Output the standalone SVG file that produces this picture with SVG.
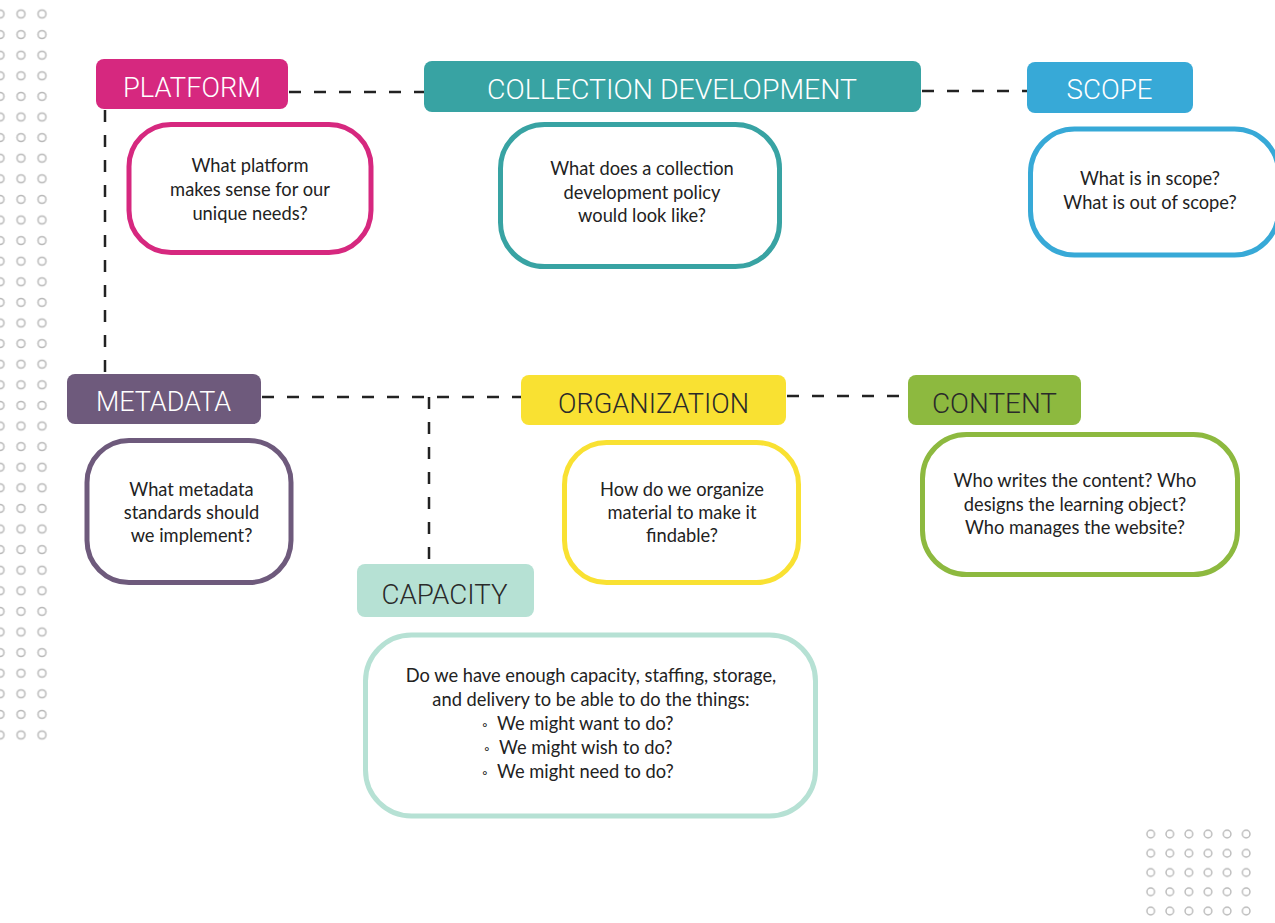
<svg xmlns="http://www.w3.org/2000/svg" width="1275" height="923" viewBox="0 0 1275 923">
<style>
.hdr{font-family:Roboto,"Liberation Sans",sans-serif;font-size:28px;text-anchor:middle;font-weight:300}
.w{fill:#ffffff}
.d{fill:#2a2a2a}
.body{font-family:Lato,"Open Sans","Liberation Sans",sans-serif;font-size:18.3px;fill:#222;text-anchor:middle}
.box{fill:#ffffff;stroke-width:5}
.conn{stroke:#222;stroke-width:2.5;stroke-dasharray:12 13;fill:none}
</style>
<defs>
<pattern id="dotsL" patternUnits="userSpaceOnUse" x="-10.5" y="3.7" width="21" height="20.6">
<circle cx="10.5" cy="10.3" r="4" fill="none" stroke="#b8b8b8" stroke-width="1.5"/>
</pattern>
<pattern id="dotsR" patternUnits="userSpaceOnUse" x="1141.15" y="824.4" width="19.1" height="19.25">
<circle cx="9.55" cy="9.6" r="3.8" fill="none" stroke="#b8b8b8" stroke-width="1.4"/>
</pattern>
</defs>
<rect width="1275" height="923" fill="#ffffff"/>
<g id="dots">
<rect x="-10.5" y="3.7" width="63" height="741.6" fill="url(#dotsL)"/>
<rect x="1141.15" y="824.4" width="114.6" height="96.25" fill="url(#dotsR)"/>
</g>
<g id="connectors">
<line class="conn" x1="289" y1="92" x2="424" y2="92"/>
<line class="conn" x1="922" y1="91" x2="1027" y2="91"/>
<line class="conn" x1="105" y1="110" x2="105" y2="374"/>
<line class="conn" x1="262" y1="397" x2="521" y2="397"/>
<line class="conn" x1="429" y1="397" x2="429" y2="564"/>
<line class="conn" x1="787" y1="396" x2="908" y2="396"/>
</g>
<g id="platform">
<rect x="96" y="59" width="192" height="50" rx="8" fill="#D6287F"/>
<text class="hdr w" x="192" y="97" textLength="138" lengthAdjust="spacingAndGlyphs">PLATFORM</text>
<rect class="box" x="129" y="124.5" width="242" height="128" rx="42" stroke="#D6287F"/>
<text class="body" x="250" y="172">What platform</text>
<text class="body" x="250" y="196">makes sense for our</text>
<text class="body" x="250" y="220">unique needs?</text>
</g>
<g id="collection-development">
<rect x="424" y="61" width="497" height="51" rx="8" fill="#38A3A3"/>
<text class="hdr w" x="672" y="98.5" textLength="370" lengthAdjust="spacingAndGlyphs">COLLECTION DEVELOPMENT</text>
<rect class="box" x="500.5" y="124.5" width="279" height="142" rx="44" stroke="#38A3A3"/>
<text class="body" x="642" y="175">What does a collection</text>
<text class="body" x="642" y="199">development policy</text>
<text class="body" x="642" y="222">would look like?</text>
</g>
<g id="scope">
<rect x="1027" y="62" width="166" height="51" rx="8" fill="#37A9D7"/>
<text class="hdr w" x="1109.5" y="99" textLength="86" lengthAdjust="spacingAndGlyphs">SCOPE</text>
<rect class="box" x="1030.5" y="129" width="248" height="126" rx="44" stroke="#37A9D7"/>
<text class="body" x="1150" y="185">What is in scope?</text>
<text class="body" x="1150" y="209">What is out of scope?</text>
</g>
<g id="metadata">
<rect x="67" y="374" width="194" height="50" rx="8" fill="#6E5A7C"/>
<text class="hdr w" x="163.5" y="410.5" textLength="135" lengthAdjust="spacingAndGlyphs">METADATA</text>
<rect class="box" x="87" y="440.5" width="204" height="142" rx="42" stroke="#6E5A7C"/>
<text class="body" x="191.5" y="495.5">What metadata</text>
<text class="body" x="191.5" y="518.5">standards should</text>
<text class="body" x="191.5" y="542">we implement?</text>
</g>
<g id="organization">
<rect x="521" y="375" width="265" height="50" rx="8" fill="#F9E132"/>
<text class="hdr d" x="653.5" y="413" textLength="191" lengthAdjust="spacingAndGlyphs">ORGANIZATION</text>
<rect class="box" x="564.5" y="442.5" width="234" height="140" rx="42" stroke="#F9E132"/>
<text class="body" x="682" y="495.5">How do we organize</text>
<text class="body" x="682" y="518.5">material to make it</text>
<text class="body" x="682" y="542">findable?</text>
</g>
<g id="content">
<rect x="908" y="375" width="173" height="50" rx="8" fill="#8DB93F"/>
<text class="hdr d" x="994.5" y="413" textLength="125" lengthAdjust="spacingAndGlyphs">CONTENT</text>
<rect class="box" x="922.5" y="434.5" width="315" height="140" rx="44" stroke="#8DB93F"/>
<text class="body" x="1075" y="487">Who writes the content? Who</text>
<text class="body" x="1075" y="511">designs the learning object?</text>
<text class="body" x="1075" y="534">Who manages the website?</text>
</g>
<g id="capacity">
<rect x="357" y="564" width="177" height="53" rx="8" fill="#B6E1D4"/>
<text class="hdr d" x="444.5" y="603.5" textLength="126" lengthAdjust="spacingAndGlyphs">CAPACITY</text>
<rect class="box" x="365.5" y="635" width="450" height="181" rx="46" stroke="#B6E1D4"/>
<text class="body" x="591" y="682">Do we have enough capacity, staffing, storage,</text>
<text class="body" x="591" y="705.5">and delivery to be able to do the things:</text>
<text class="body" x="482" y="730" style="text-anchor:start"><tspan font-size="14">◦</tspan><tspan x="497">We might want to do?</tspan></text>
<text class="body" x="484" y="754" style="text-anchor:start"><tspan font-size="14">◦</tspan><tspan x="499">We might wish to do?</tspan></text>
<text class="body" x="482" y="778" style="text-anchor:start"><tspan font-size="14">◦</tspan><tspan x="497">We might need to do?</tspan></text>
</g>
</svg>
